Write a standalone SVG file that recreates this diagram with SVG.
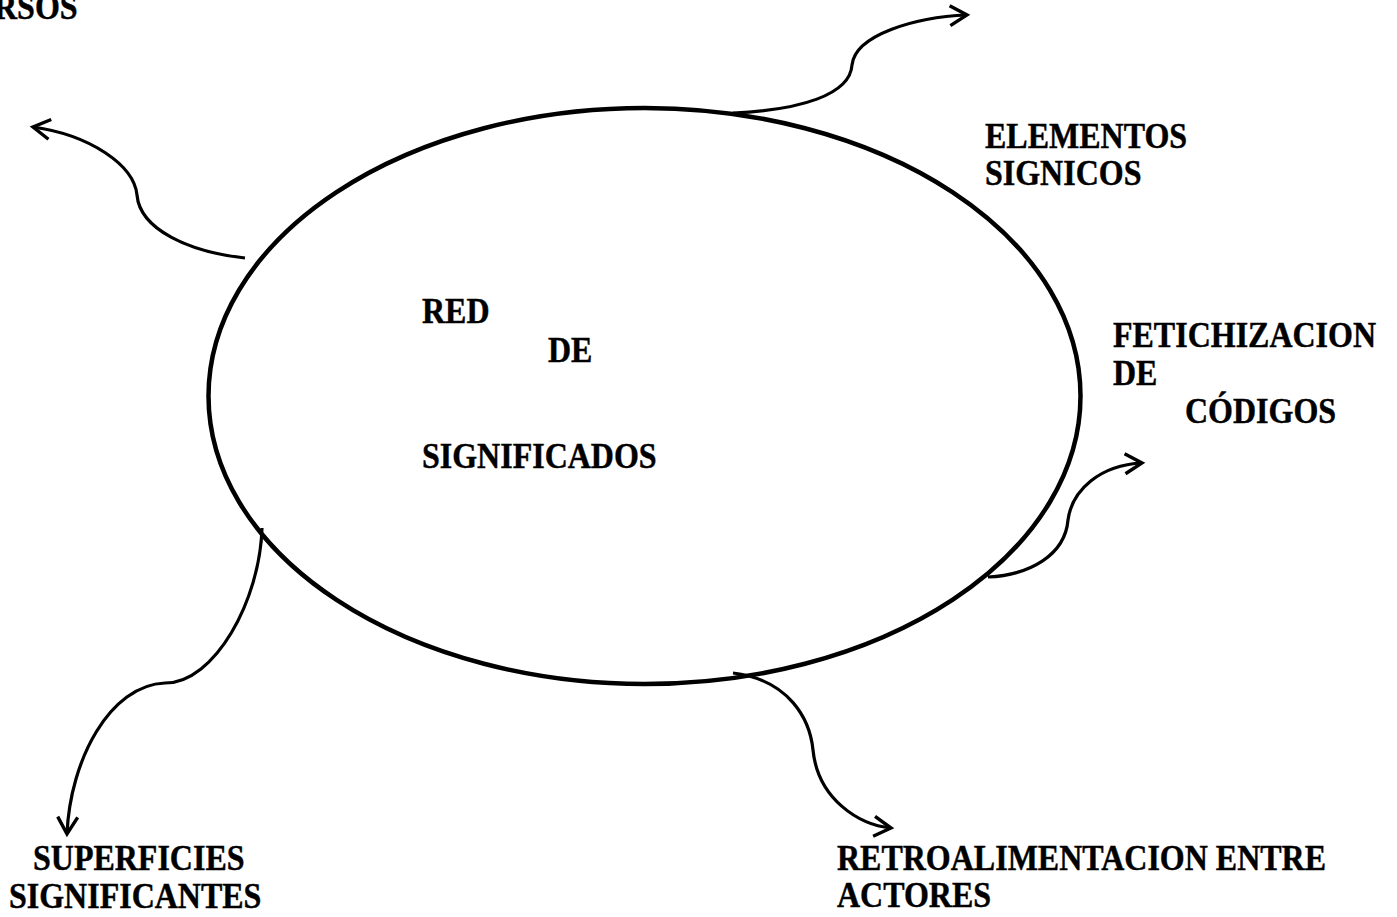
<svg xmlns="http://www.w3.org/2000/svg" width="1397" height="917" viewBox="0 0 1397 917">
<style>
text{font-family:"Liberation Serif","Times New Roman",serif;font-weight:bold;font-size:32px;fill:#000;stroke:#000;stroke-width:0.4}
.c{fill:none;stroke:#000;stroke-width:3.2;stroke-linecap:butt}
</style>
<defs>
<marker id="ah" markerUnits="userSpaceOnUse" markerWidth="30" markerHeight="30" viewBox="-20 -15 30 30" refX="0" refY="0" orient="auto">
<path d="M-17,-10 L0,0 L-17,10" fill="none" stroke="#000" stroke-width="3.4" stroke-linecap="butt" stroke-linejoin="miter"/>
</marker>
</defs>
<rect width="1397" height="917" fill="#fff"/>
<g id="centro">
<ellipse cx="644.5" cy="396" rx="436" ry="288" fill="none" stroke="#000" stroke-width="4.5"/>
<text transform="translate(422,323) scale(1,1.15)">RED</text>
<text transform="translate(548,362) scale(1,1.15)">DE</text>
<text transform="translate(422,468) scale(1,1.15)">SIGNIFICADOS</text>
</g>
<g id="connectors">
<path class="c" marker-end="url(#ah)" d="M245,258 C190,252 140,230 137,195 C134,165 90,135 33,127"/>
<path class="c" marker-end="url(#ah)" d="M733,113 C800,110 850,95 852,65 C855,35 915,17 967,15"/>
<path class="c" marker-end="url(#ah)" d="M988,577 C1030,575 1065,555 1068,520 C1072,490 1100,465 1142,463"/>
<path class="c" marker-end="url(#ah)" d="M733,673 C790,680 810,720 813,750 C818,800 860,825 891,828"/>
<path class="c" marker-end="url(#ah)" d="M262,528 C260,600 215,683 165,683 C110,685 70,760 67,834"/>
</g>
<g id="discursos"><text transform="translate(-6,19) scale(1,1.15)">RSOS</text></g>
<g id="elementos"><text transform="translate(985,148) scale(1,1.15)">ELEMENTOS</text><text transform="translate(985,185) scale(1,1.15)">SIGNICOS</text></g>
<g id="fetichizacion"><text transform="translate(1113,347) scale(1,1.15)">FETICHIZACION</text><text transform="translate(1113,385) scale(1,1.15)">DE</text><text transform="translate(1185,423) scale(1,1.15)">CÓDIGOS</text></g>
<g id="retro"><text transform="translate(837,870) scale(1,1.15)">RETROALIMENTACION ENTRE</text><text transform="translate(837,907) scale(1,1.15)">ACTORES</text></g>
<g id="superficies"><text transform="translate(33,870) scale(1,1.15)">SUPERFICIES</text><text transform="translate(9,908) scale(1,1.15)">SIGNIFICANTES</text></g>
</svg>
